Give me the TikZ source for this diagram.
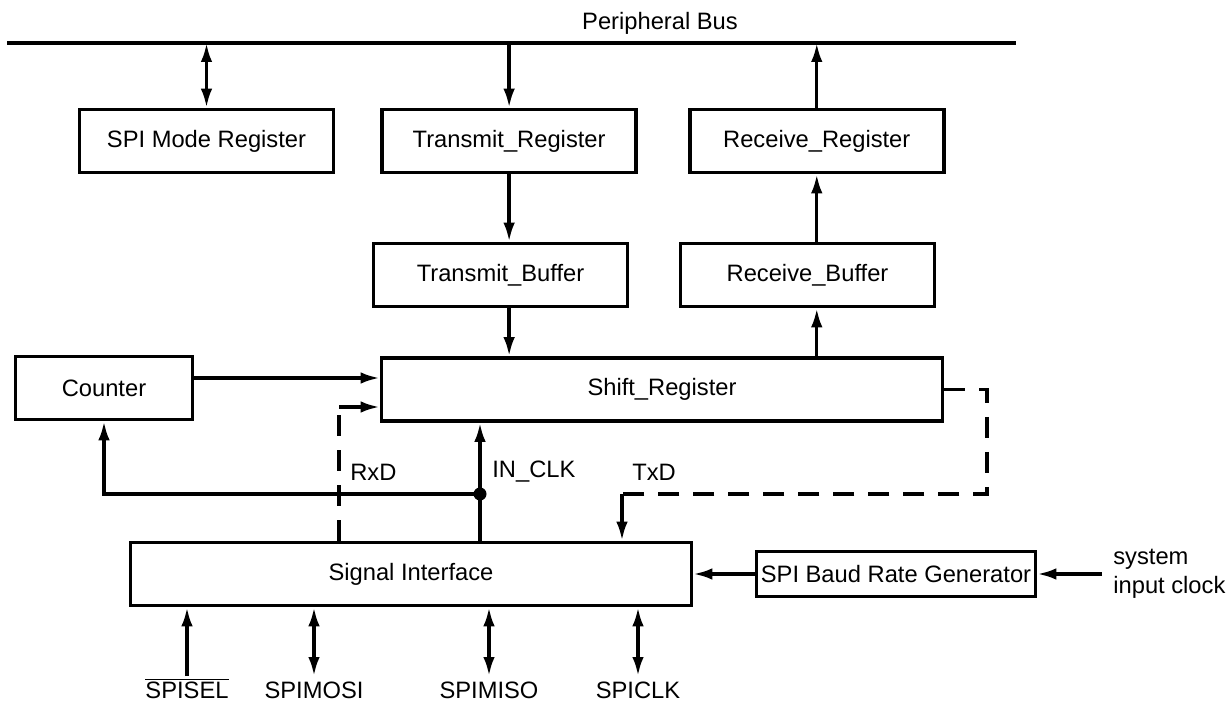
\documentclass[tikz,border=0pt]{standalone}
\usepackage{fontspec}
\setmainfont{Liberation Sans}
\usetikzlibrary{arrows.meta, positioning, calc}

\begin{document}
\begin{tikzpicture}[
  x=0.02cm, y=-0.02cm,
  font=\fontsize{13.5}{16.5}\selectfont,
  box/.style={rectangle, draw, line width=2.1pt, minimum width=5.08cm,
    minimum height=1.26cm, align=center, inner sep=2pt},
  wide/.style={box, minimum width=11.22cm},
  arr/.style={-{Latex[length=0.38cm, width=0.23cm]}, line width=1.9pt},
  dblarr/.style={{Latex[length=0.38cm, width=0.23cm]}-{Latex[length=0.38cm, width=0.23cm]}, line width=1.9pt},
  dsh/.style={line width=1.9pt, dash pattern=on 0.42cm off 0.28cm},
  buswire/.style={line width=2.6pt},
  pin/.style={anchor=base, inner sep=0pt},
  tag/.style={anchor=west, inner sep=0pt}
]
\useasboundingbox (0,0) rectangle (1228,702);

\coordinate (busL) at (7,43);
\coordinate (busR) at (1016,43);
\draw[buswire] (busL) -- (busR);
\node[pin] (busname) at (660,30) {Peripheral Bus};

\node[box] (mode) at (206.5,141) {SPI Mode Register};
\node[box, right=0.9cm of mode] (treg) {Transmit\_Register};
\node[box, right=1.0cm of treg] (rreg) {Receive\_Register};
\node[box] (tbuf) at (500.5,275) {Transmit\_Buffer};
\node[box] (rbuf) at (807.5,275) {Receive\_Buffer};
\node[box, minimum width=3.54cm] (counter) at (104,388) {Counter};
\node[wide] (shift) at (662,389.5) {Shift\_Register};
\node[wide] (sig) at (411,574) {Signal Interface};
\node[box, minimum width=5.58cm, minimum height=0.9cm, inner sep=1pt] (baud) at (896,574) {SPI Baud Rate Generator};
\node[anchor=west, align=left, inner xsep=0.22cm, inner ysep=0pt] (sysclk) at (1102,574) {system\\input clock};

\draw[dblarr] (mode.north) -- (mode.north |- busL);
\draw[arr] (treg.north |- busL) -- (treg.north);
\draw[arr] (rreg.north) -- (rreg.north |- busL);
\draw[arr] (treg.south) -- (tbuf.north -| treg.south);
\draw[arr] (rreg.south |- rbuf.north) -- (rreg.south);
\draw[arr] (tbuf.south -| treg.south) -- (shift.north -| treg.south);
\draw[arr] (shift.north -| rreg.south) -- (rbuf.south -| rreg.south);
\draw[arr] ([yshift=0.2cm]counter.east) -- ([yshift=0.2cm]counter.east -| shift.west);

\coordinate (rxd) at (339,407);
\draw[dsh] (sig.north -| rxd) -- (rxd);
\draw[arr] (rxd) -- (shift.west |- rxd);
\node[tag] (rxname) at (350,472) {RxD};

\coordinate (clk) at (480,494);
\draw[arr] (sig.north -| clk) -- (shift.south -| clk);
\draw[arr] (clk) -| (counter.south);
\fill (clk) circle[radius=0.13cm];
\node[tag] (clkname) at (492,472) {IN\_CLK};

\coordinate (txR) at (987,494);
\coordinate (txL) at (622,494);
\draw[dsh] (shift.east) -| (txR) -- (txL);
\draw[arr] (txL) -- (sig.north -| txL);
\node[tag] (txname) at (632,472) {TxD};

\draw[arr] (baud.west) -- (sig.east);
\draw[arr] (sysclk.west) -- (baud.east);

\coordinate (pSel) at (187,676);
\coordinate (pMosi) at (314,676);
\coordinate (pMiso) at (489,676);
\coordinate (pClk) at (638,676);
\draw[arr] (pSel) -- (sig.south -| pSel);
\draw[dblarr] (pMosi) -- (sig.south -| pMosi);
\draw[dblarr] (pMiso) -- (sig.south -| pMiso);
\draw[dblarr] (pClk) -- (sig.south -| pClk);
\node[pin] (selname) at (187,698) {$\overline{\mbox{SPISEL}}$};
\node[pin] (mosiname) at (314,698) {SPIMOSI};
\node[pin] (misoname) at (489,698) {SPIMISO};
\node[pin] (clkpin) at (638,698) {SPICLK};
\end{tikzpicture}
\end{document}
